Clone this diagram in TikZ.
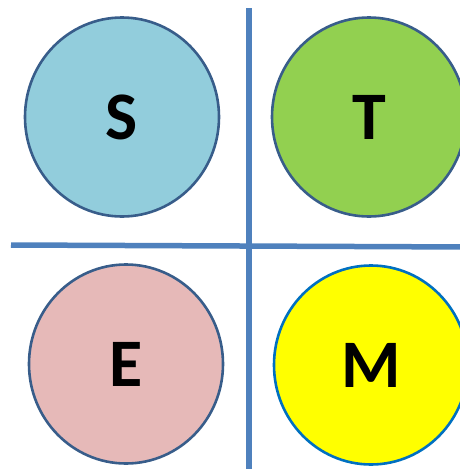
\documentclass[tikz,border=0pt]{standalone}
\usepackage{fontspec}
\setmainfont{Carlito}
\usetikzlibrary{shapes.geometric}
\definecolor{sfill}{HTML}{92CDDC}
\definecolor{tfill}{HTML}{92D050}
\definecolor{efill}{HTML}{E6B9B8}
\definecolor{mfill}{HTML}{FFFF00}
\definecolor{darkrim}{HTML}{385D8A}
\definecolor{mrim}{HTML}{0070C0}
\definecolor{divider}{HTML}{4F81BD}
\tikzset{
  bubble/.style={ellipse, minimum width=194pt, minimum height=199pt, inner sep=0pt,
    line width=2.6pt, draw=darkrim, font=\fontsize{68}{68}\selectfont\bfseries},
  divline/.style={draw=divider, line width=5.5pt}
}
\begin{document}
\begin{tikzpicture}[x=1pt,y=-1pt]
\useasboundingbox (0,0) rectangle (460,469);
\clip (0,0) rectangle (460,469);
\coordinate (vtop) at (249,8);
\coordinate (vbot) at (249,475);
\coordinate (hleft) at (11,245);
\coordinate (hright) at (470,247);
\draw[divline] (vtop) -- (vbot);
\draw[divline] (hleft) -- (hright);
\node[bubble, fill=sfill] (S) at (122,117) {S};
\node[bubble, fill=tfill] (T) at (369,117) {T};
\node[bubble, fill=efill] (E) at (126,364) {E};
\node[bubble, fill=mfill, draw=mrim] (M) at (371,365) {M};
\end{tikzpicture}
\end{document}
